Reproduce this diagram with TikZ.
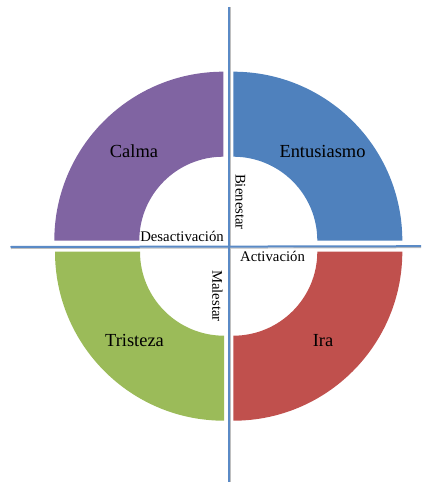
\documentclass[tikz,border=0pt]{standalone}
\usepackage{fontspec}
\setmainfont{Liberation Serif}
\usetikzlibrary{calc}
\definecolor{cPurple}{HTML}{8064A2}
\definecolor{cBlue}{HTML}{4F81BD}
\definecolor{cGreen}{HTML}{9BBB59}
\definecolor{cRed}{HTML}{C0504D}
\definecolor{cAxis}{HTML}{5A8AC6}
\newcommand\quadsector[5]{%
  \fill[#1] ($(#2,#3)+(#4:169)$) arc[start angle=#4,end angle=#5,radius=169]
    -- ($(#2,#3)+(#5:84)$) arc[start angle=#5,end angle=#4,radius=84] -- cycle;}
\begin{document}
\begin{tikzpicture}[x=1bp,y=-1bp,
  big/.style={font=\fontsize{18.5}{20}\selectfont, inner sep=0pt},
  small/.style={font=\fontsize{14.8}{16}\selectfont, inner sep=0pt},
  axisline/.style={draw=cAxis, line width=2bp},
  axisshadow/.style={draw=black!25, line width=1.2bp}]
\useasboundingbox (0,0) rectangle (421,482);
% quarter rings
\quadsector{cPurple}{223.3}{240.7}{180}{270}
\quadsector{cBlue}{233.3}{240.7}{270}{360}
\quadsector{cGreen}{224}{251.7}{90}{180}
\quadsector{cRed}{233.3}{251.7}{0}{90}
% axes
\coordinate (vt) at (229,7);
\coordinate (vb) at (229,482);
\coordinate (hl) at (10.5,247);
\coordinate (hr) at (421,246.2);
\draw[axisshadow] ($(vt)+(1.3,0.5)$) -- ($(vb)+(1.3,0)$);
\draw[axisshadow] ($(hl)+(0.5,1.4)$) -- ($(hr)+(0,1.4)$);
\draw[axisline] (vt) -- (vb);
\draw[axisline] (hl) -- (hr);
% labels
\node[big, anchor=base] (calma) at (134,157.5) {Calma};
\node[big, anchor=base] (entu) at (322.5,157.5) {Entusiasmo};
\node[big, anchor=base] (trist) at (134.5,346.5) {Tristeza};
\node[big, anchor=base] (ira) at (323,346.5) {Ira};
\node[small, anchor=base east] (desact) at (224,241.5) {Desactivación};
\node[small, anchor=base west] (act) at (240,261) {Activación};
\node[small, rotate=-90] (bien) at (240.5,202) {Bienestar};
\node[small, rotate=-90] (mal) at (217.5,296) {Malestar};
\end{tikzpicture}
\end{document}
